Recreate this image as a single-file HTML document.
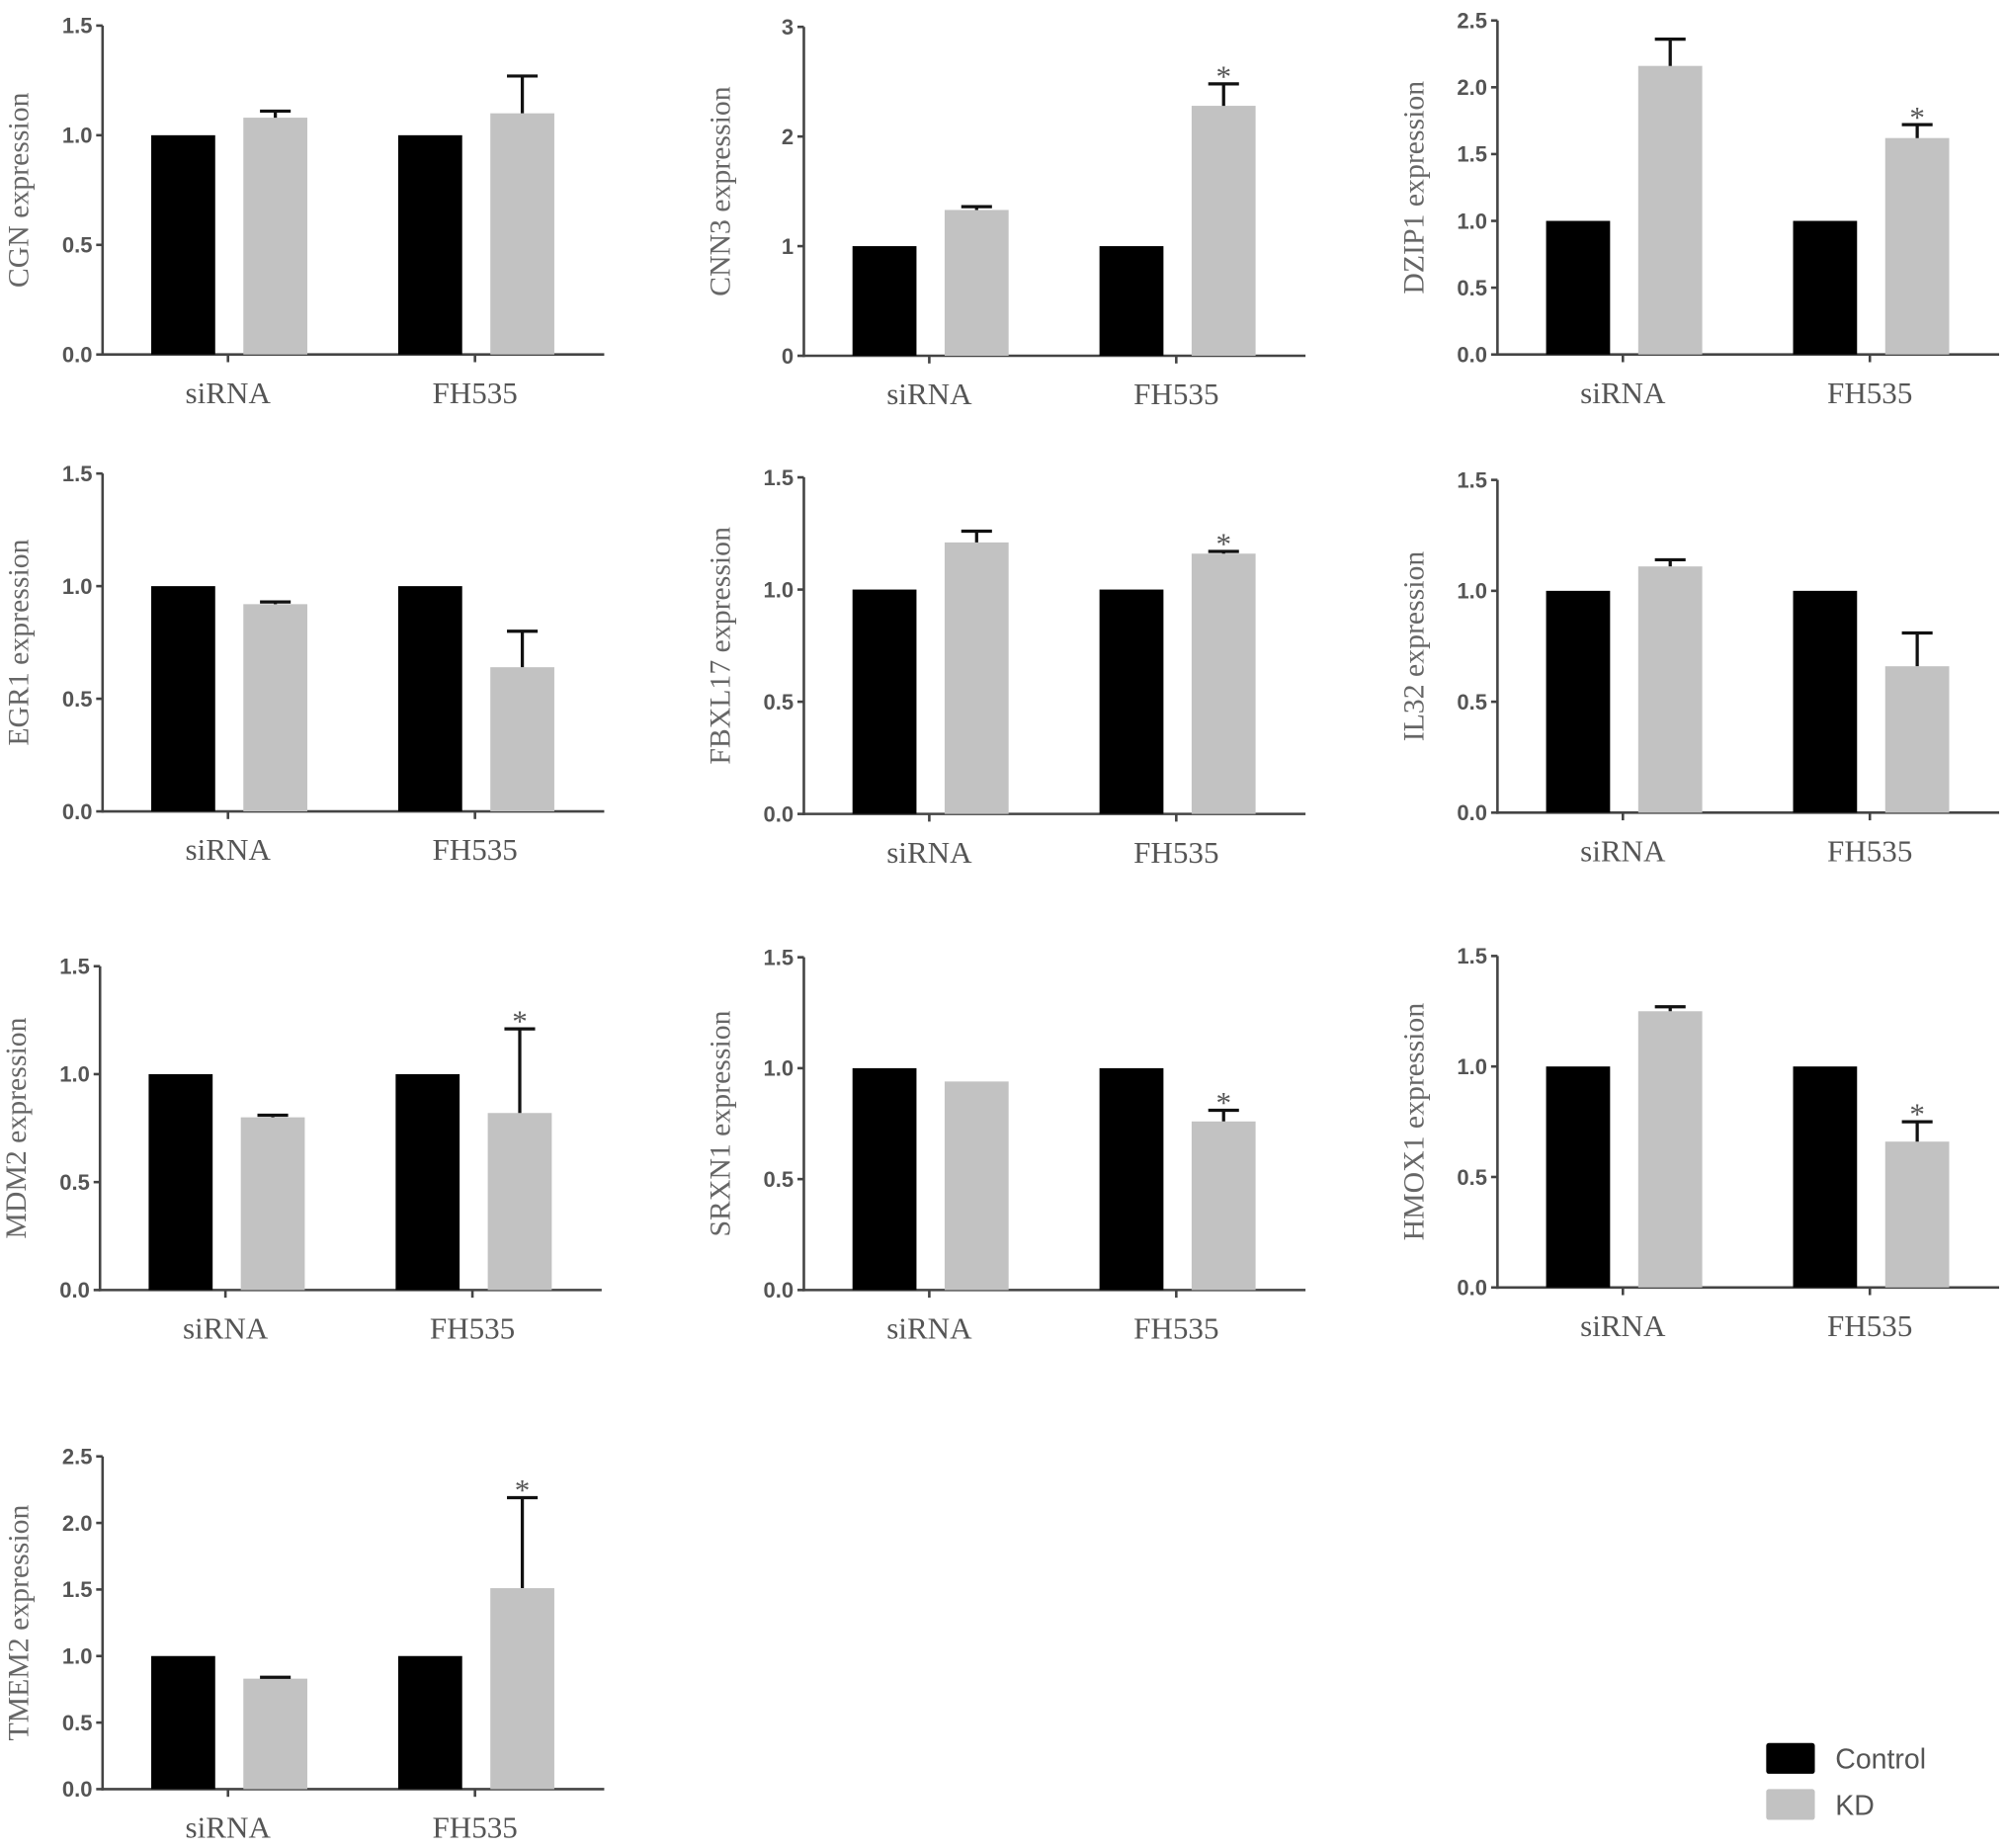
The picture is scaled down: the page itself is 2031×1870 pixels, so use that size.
<!DOCTYPE html>
<html><head><meta charset="utf-8">
<style>
html,body{margin:0;padding:0;background:#fff;}
svg{display:block;}
.tick{font-family:"Liberation Sans",sans-serif;font-size:17px;fill:#555;font-weight:600;}
.ytitle{font-family:"Liberation Serif",serif;font-size:23px;fill:#666;}
.cat{font-family:"Liberation Serif",serif;font-size:24px;fill:#555;}
.leg{font-family:"Liberation Sans",sans-serif;font-size:22px;fill:#555;}
</style></head>
<body>
<svg id="fig" width="2031" height="1870" viewBox="0 0 1568 1444" xmlns="http://www.w3.org/2000/svg">
<g>
<rect x="1380" y="1362" width="38" height="24" rx="2" fill="#000"/>
<text class="leg" x="1434" y="1382">Control</text>
<rect x="1380" y="1398" width="38" height="24" rx="2" fill="#c2c2c2"/>
<text class="leg" x="1434" y="1418">KD</text>
</g>
</svg>
<script>
const categories = ["siRNA", "FH535"];
const genes = ["CGN","CNN3","DZIP1","EGR1","FBXL17","IL32","MDM2","SRXN1","HMOX1","TMEM2"];
const controlValues = [[1,1],[1,1],[1,1],[1,1],[1,1],[1,1],[1,1],[1,1],[1,1],[1,1]];
const kdValues = [[1.08,1.10],[1.33,2.28],[2.16,1.62],[0.92,0.64],[1.21,1.16],[1.11,0.66],[0.80,0.82],[0.94,0.76],[1.25,0.66],[0.83,1.51]];
const kdErrors = [[0.03,0.17],[0.03,0.20],[0.20,0.10],[0.01,0.16],[0.05,0.01],[0.03,0.15],[0.01,0.39],[0.0,0.05],[0.02,0.09],[0.01,0.68]];
const significant = [[false,false],[false,true],[false,true],[false,false],[false,true],[false,false],[false,true],[false,true],[false,true],[false,true]];
const yMax = [1.5,3,2.5,1.5,1.5,1.5,1.5,1.5,1.5,2.5];
const yTickLabels = [
 ["0.0","0.5","1.0","1.5"],["0","1","2","3"],["0.0","0.5","1.0","1.5","2.0","2.5"],
 ["0.0","0.5","1.0","1.5"],["0.0","0.5","1.0","1.5"],["0.0","0.5","1.0","1.5"],
 ["0.0","0.5","1.0","1.5"],["0.0","0.5","1.0","1.5"],["0.0","0.5","1.0","1.5"],
 ["0.0","0.5","1.0","1.5","2.0","2.5"]];
const layout = [[80,20,277],[628,21,278],[1170,16,277],[80,370,634],[628,373,636],[1170,375,635],[78,755,1008],[628,748,1008],[1170,747,1006],[80,1138,1398]];
const NS="http://www.w3.org/2000/svg";
const svg=document.getElementById('fig');
function mk(tag,attrs,parent){const e=document.createElementNS(NS,tag);for(const k in attrs)e.setAttribute(k,attrs[k]);parent.appendChild(e);return e;}
genes.forEach((g,i)=>{
  const [ax,top,zero]=layout[i];
  const grp=mk('g',{},svg);
  
  
  const y=v=>zero-(v/yMax[i])*(zero-top);
  const ticks=yTickLabels[i];
  ticks.forEach((t,k)=>{
    const v=parseFloat(t);const ty=y(v);
    const ln=mk('line',{x1:ax-5,x2:ax,y1:ty,y2:ty,stroke:'#444','stroke-width':2},grp);
    
    
    const tx=mk('text',{class:'tick',x:ax-8,y:ty+6,'text-anchor':'end'},grp);tx.textContent=t;
    
    
  });
  const ya=mk('line',{x1:ax,x2:ax,y1:top,y2:zero+1,stroke:'#444','stroke-width':2},grp);
  
  
  const xa=mk('line',{x1:ax-1,x2:ax+392,y1:zero,y2:zero,stroke:'#444','stroke-width':2},grp);
  
  
  const cy=(top+zero)/2, tx0=ax-58;
  const yt=mk('text',{class:'ytitle',x:tx0,y:cy,'text-anchor':'middle',transform:`rotate(-90 ${tx0} ${cy})`},grp);
  yt.textContent=g+' expression';
  
  
  categories.forEach((c,j)=>{
    const base=ax+38+j*193;
    const cb=mk('rect',{x:base,y:y(controlValues[i][j]),width:50,height:zero-y(controlValues[i][j]),fill:'#000'},grp);
    
    
    const kv=kdValues[i][j], ke=kdErrors[i][j];
    const kx=base+72;
    const kb=mk('rect',{x:kx,y:y(kv),width:50,height:zero-y(kv),fill:'#c2c2c2'},grp);
    
    
    if(ke>0.005){
      const cx=kx+25;
      const eb=mk('path',{d:`M${cx},${y(kv)} V${y(kv+ke)} M${cx-12},${y(kv+ke)} H${cx+12}`,stroke:'#111','stroke-width':2.5,fill:'none'},grp);
      
      
    }
    if(significant[i][j]){
      const st=mk('text',{class:'cat',x:kx+25,y:y(kv+ke)+2,'text-anchor':'middle','font-size':'30'},grp);
      st.textContent='*';
      
      
    }
    const ccx=ax+98+j*193;
    const tk=mk('line',{x1:ccx,x2:ccx,y1:zero,y2:zero+6,stroke:'#444','stroke-width':2},grp);
    
    
    const cl=mk('text',{class:'cat',x:ccx,y:zero+38,'text-anchor':'middle'},grp);
    cl.textContent=c;
    
    
  });
});
</script>
</body></html>
